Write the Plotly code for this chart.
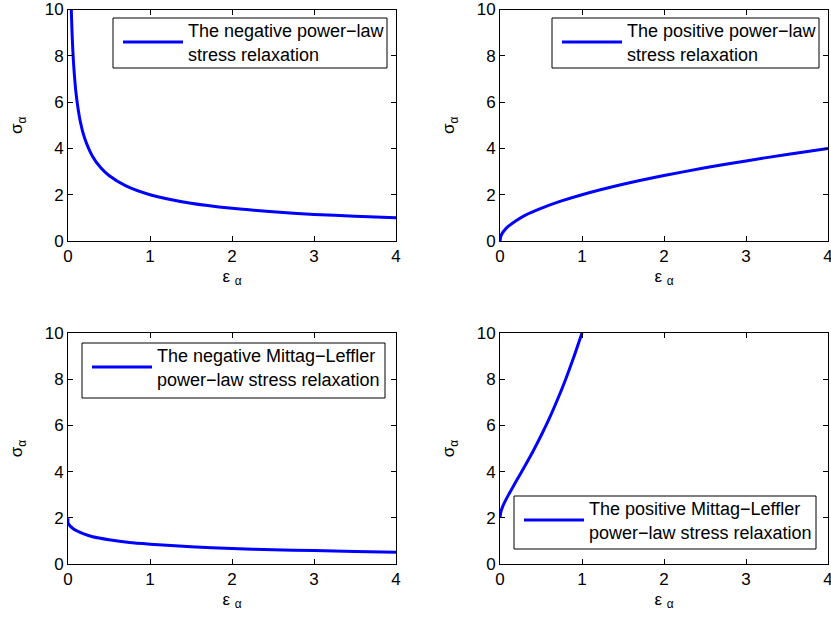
import plotly.graph_objects as go

# Panel 1: negative power-law stress relaxation
eps_neg_pl = [0.04, 0.05, 0.07, 0.1, 0.15, 0.2, 0.3, 0.4, 0.5, 0.7, 1.0, 1.5, 2.0, 2.5, 3.0, 3.5, 4.0]
sig_neg_pl = [10.0, 8.94, 7.56, 6.32, 5.16, 4.47, 3.65, 3.16, 2.83, 2.39, 2.0, 1.63, 1.41, 1.26, 1.15, 1.07, 1.0]

# Panel 2: positive power-law stress relaxation
eps_pos_pl = [0.0, 0.01, 0.03, 0.06, 0.1, 0.2, 0.3, 0.5, 0.75, 1.0, 1.5, 2.0, 2.5, 3.0, 3.5, 4.0]
sig_pos_pl = [0.0, 0.2, 0.35, 0.49, 0.63, 0.89, 1.1, 1.41, 1.73, 2.0, 2.45, 2.83, 3.16, 3.46, 3.74, 4.0]

# Panel 3: negative Mittag-Leffler power-law stress relaxation
eps_neg_ml = [0.0, 0.0, 0.01, 0.03, 0.06, 0.1, 0.2, 0.3, 0.5, 0.75, 1.0, 1.5, 2.0, 2.5, 3.0, 3.5, 4.0]
sig_neg_ml = [1.98, 1.78, 1.72, 1.63, 1.54, 1.45, 1.29, 1.18, 1.05, 0.93, 0.86, 0.75, 0.67, 0.62, 0.58, 0.54, 0.51]

# Panel 4: positive Mittag-Leffler power-law stress relaxation
eps_pos_ml = [0.0, 0.01, 0.03, 0.06, 0.1, 0.2, 0.3, 0.4, 0.5, 0.6, 0.7, 0.8, 0.9, 1.0]
sig_pos_ml = [2.0, 2.25, 2.46, 2.7, 2.97, 3.6, 4.22, 4.86, 5.55, 6.29, 7.11, 7.99, 8.96, 10.0]

names = [
    "The negative power\u2212law<br>stress relaxation",
    "The positive power\u2212law<br>stress relaxation",
    "The negative Mittag\u2212Leffler<br>power\u2212law stress relaxation",
    "The positive Mittag\u2212Leffler<br>power\u2212law stress relaxation",
]
series = [(eps_neg_pl, sig_neg_pl), (eps_pos_pl, sig_pos_pl),
          (eps_neg_ml, sig_neg_ml), (eps_pos_ml, sig_pos_ml)]

x_ticks = [0, 1, 2, 3, 4]
y_ticks = [0, 2, 4, 6, 8, 10]

W, H = 831, 623
FONT = "Liberation Sans, Arial, Helvetica, sans-serif"
FS = 17
LFS = 18


def px(x):
    return x / W


def py(y):
    return 1 - y / H


# plot area pixel boxes in window coords: (left, right, top, bottom)
boxes = [(68, 396, 9.5, 241), (500, 828, 9.5, 241),
         (68, 396, 333, 564), (500, 828, 333, 564)]
# legend frame boxes in window coords: (left, top, right, bottom)
leg_boxes = [(113, 18, 387, 68), (552, 18, 819, 68),
             (82, 343, 385, 398), (514, 496, 816, 549)]

fig = go.Figure()
layout = dict(
    width=W, height=H, margin=dict(l=0, r=0, t=0, b=0, autoexpand=False),
    paper_bgcolor="white", plot_bgcolor="white",
    font=dict(family=FONT, size=FS, color="black"),
    showlegend=True,
)
shapes = []

for i, ((xs, ys), name, box, lb) in enumerate(zip(series, names, boxes, leg_boxes)):
    n = i + 1
    sfx = "" if n == 1 else str(n)
    leg = "legend" if n == 1 else f"legend{n}"
    fig.add_trace(go.Scatter(
        x=xs, y=ys, mode="lines", name=name,
        line=dict(color="#0000FF", width=3, shape="spline", smoothing=0.6),
        xaxis=f"x{sfx}", yaxis=f"y{sfx}", legend=leg, cliponaxis=True,
    ))
    l, r, t, b = box
    common = dict(showline=True, linecolor="black", linewidth=1, mirror="allticks",
                  ticks="inside", ticklen=5, tickcolor="black", showgrid=False,
                  zeroline=False, automargin=False, ticklabeloverflow="allow",
                  tickfont=dict(family=FONT, size=FS, color="black"))
    layout[f"xaxis{sfx}"] = dict(
        domain=[px(l), px(r)], range=[0, 4], tickvals=x_ticks,
        anchor=f"y{sfx}",
        title=dict(text="\u03b5 <sub>\u03b1</sub>", standoff=4,
                   font=dict(family=FONT, size=FS)),
        **common)
    layout[f"yaxis{sfx}"] = dict(
        domain=[py(b), py(t)], range=[0, 10], tickvals=y_ticks,
        anchor=f"x{sfx}",
        title=dict(text="\u03c3<sub>\u03b1</sub>", standoff=17,
                   font=dict(family=FONT, size=FS)),
        **common)
    # legend frame
    shapes.append(dict(type="rect", xref="paper", yref="paper",
                       x0=px(lb[0]), x1=px(lb[2]), y0=py(lb[3]), y1=py(lb[1]),
                       line=dict(color="black", width=1), fillcolor="white",
                       layer="above"))
    layout[leg] = dict(
        x=px(lb[0] + 5), y=py(lb[1] - 6), xanchor="left", yanchor="top",
        xref="paper", yref="paper",
        bgcolor="rgba(0,0,0,0)", borderwidth=0,
        font=dict(family=FONT, size=LFS, color="black"),
        itemwidth=60, tracegroupgap=0,
    )

layout["shapes"] = shapes
fig.update_layout(**layout)
fig.write_html("out.html", config={"displayModeBar": False},
               post_script="document.body.style.margin='0';document.body.style.overflow='hidden';")
